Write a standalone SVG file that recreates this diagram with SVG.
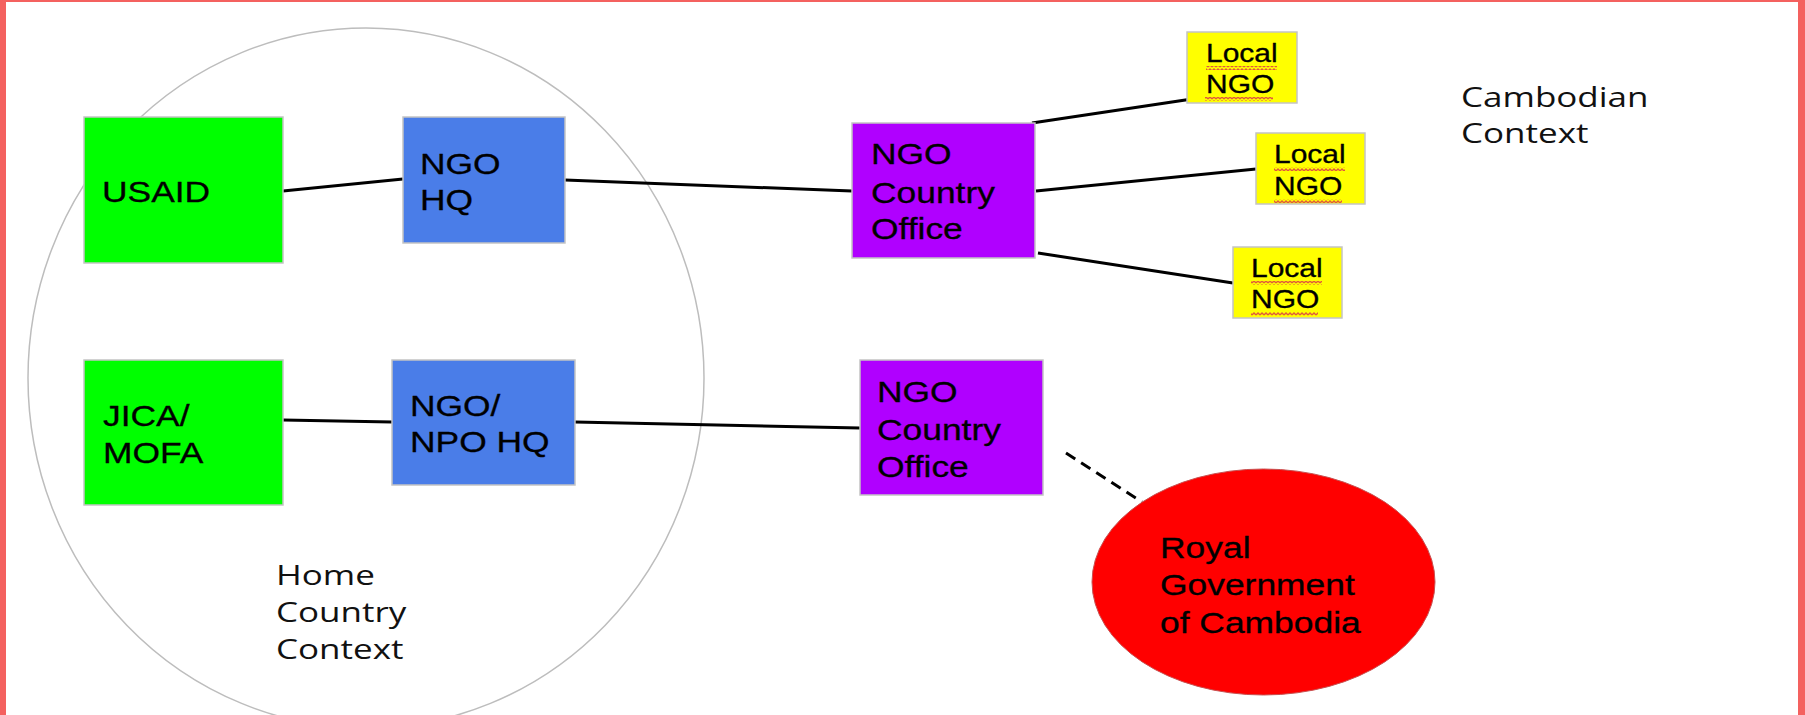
<svg xmlns="http://www.w3.org/2000/svg" width="1805" height="715" viewBox="0 0 1805 715">
<style>
.box{stroke:#c4c4c4;stroke-width:1.5}
.a{font-family:"Liberation Sans",Arial,sans-serif;font-size:29.5px;fill:#000;stroke:#000;stroke-width:0.3}
.s{font-family:"Liberation Sans",Arial,sans-serif;font-size:25px;fill:#000;stroke:#000;stroke-width:0.3}
.o{font-family:"Open Sans","Noto Sans",sans-serif;font-size:28px;fill:#111}
.ln{stroke:#000;stroke-width:3;fill:none}
</style>
<defs>
<pattern id="sq" width="4" height="4" patternUnits="userSpaceOnUse">
<path d="M0,3 L2,1 L4,3" stroke="#e0583e" stroke-width="1.3" fill="none"/>
</pattern>
</defs>
<rect x="0" y="0" width="1805" height="715" fill="#ffffff"/>
<g id="frame" fill="#f4615f">
<rect x="0" y="0" width="6" height="715"/>
<rect x="0" y="0" width="1805" height="2"/>
<rect x="1798" y="0" width="7" height="715"/>
</g>
<g id="home-context">
<ellipse cx="366" cy="378" rx="338" ry="350" fill="none" stroke="#bdbdbd" stroke-width="1.5"/>
<text class="o" transform="translate(276,585) scale(1.25 1)"><tspan x="0" y="0">Home</tspan><tspan x="0" y="37">Country</tspan><tspan x="0" y="74">Context</tspan></text>
</g>
<g id="cambodian-context">
<text class="o" transform="translate(1461,107) scale(1.25 1)"><tspan x="0" y="0">Cambodian</tspan><tspan x="0" y="36">Context</tspan></text>
</g>
<g id="connectors">
<line class="ln" x1="283" y1="191" x2="403" y2="179"/>
<line class="ln" x1="565" y1="180" x2="852" y2="191"/>
<line class="ln" x1="1032" y1="123" x2="1192" y2="99"/>
<line class="ln" x1="1036" y1="191" x2="1256" y2="169"/>
<line class="ln" x1="1038" y1="253" x2="1233" y2="283"/>
<line class="ln" x1="283" y1="420" x2="392" y2="422"/>
<line class="ln" x1="575" y1="422" x2="860" y2="428"/>
<line class="ln" x1="1066" y1="453" x2="1142" y2="502" stroke-width="3.5" stroke-dasharray="11 7"/>
</g>
<g id="usaid">
<rect class="box" x="84" y="117" width="199" height="146" fill="#00ff00"/>
<text class="a" transform="translate(102,202) scale(1.2 1)">USAID</text>
</g>
<g id="ngo-hq">
<rect class="box" x="403" y="117" width="162" height="126" fill="#4a7de8"/>
<text class="a" transform="translate(420,174) scale(1.2 1)"><tspan x="0" y="0">NGO</tspan><tspan x="0" y="36">HQ</tspan></text>
</g>
<g id="ngo-country-office-1">
<rect class="box" x="852" y="123" width="183" height="135" fill="#b000ff"/>
<text class="a" transform="translate(871,164) scale(1.2 1)"><tspan x="0" y="0">NGO</tspan><tspan x="0" y="39">Country</tspan><tspan x="0" y="75">Office</tspan></text>
</g>
<g id="local-ngo-1">
<rect class="box" x="1187" y="32" width="110" height="71" fill="#ffff00"/>
<text class="s" transform="translate(1206,62) scale(1.2 1)"><tspan x="0" y="0">Local</tspan><tspan x="0" y="31">NGO</tspan></text>
<rect x="1206" y="66" width="71" height="4" fill="url(#sq)"/>
<rect x="1205" y="97" width="68" height="4" fill="url(#sq)"/>
</g>
<g id="local-ngo-2">
<rect class="box" x="1256" y="133" width="109" height="71" fill="#ffff00"/>
<text class="s" transform="translate(1274,163) scale(1.2 1)"><tspan x="0" y="0">Local</tspan><tspan x="0" y="32">NGO</tspan></text>
<rect x="1274" y="167" width="71" height="4" fill="url(#sq)"/>
<rect x="1274" y="199" width="68" height="4" fill="url(#sq)"/>
</g>
<g id="local-ngo-3">
<rect class="box" x="1233" y="247" width="109" height="71" fill="#ffff00"/>
<text class="s" transform="translate(1251,277) scale(1.2 1)"><tspan x="0" y="0">Local</tspan><tspan x="0" y="31">NGO</tspan></text>
<rect x="1251" y="281" width="71" height="4" fill="url(#sq)"/>
<rect x="1251" y="312" width="67" height="4" fill="url(#sq)"/>
</g>
<g id="jica-mofa">
<rect class="box" x="84" y="360" width="199" height="145" fill="#00ff00"/>
<text class="a" transform="translate(103,426) scale(1.2 1)"><tspan x="0" y="0">JICA/</tspan><tspan x="0" y="37">MOFA</tspan></text>
</g>
<g id="ngo-npo-hq">
<rect class="box" x="392" y="360" width="183" height="125" fill="#4a7de8"/>
<text class="a" transform="translate(410,416) scale(1.2 1)"><tspan x="0" y="0">NGO/</tspan><tspan x="0" y="36">NPO HQ</tspan></text>
</g>
<g id="ngo-country-office-2">
<rect class="box" x="860" y="360" width="183" height="135" fill="#b000ff"/>
<text class="a" transform="translate(877,402) scale(1.2 1)"><tspan x="0" y="0">NGO</tspan><tspan x="0" y="38">Country</tspan><tspan x="0" y="75">Office</tspan></text>
</g>
<g id="royal-government">
<ellipse cx="1263.5" cy="582" rx="171.5" ry="113" fill="#ff0000" stroke="#c85050" stroke-width="1"/>
<text class="a" transform="translate(1160,558) scale(1.2 1)"><tspan x="0" y="0">Royal</tspan><tspan x="0" y="37">Government</tspan><tspan x="0" y="75">of Cambodia</tspan></text>
</g>
</svg>
